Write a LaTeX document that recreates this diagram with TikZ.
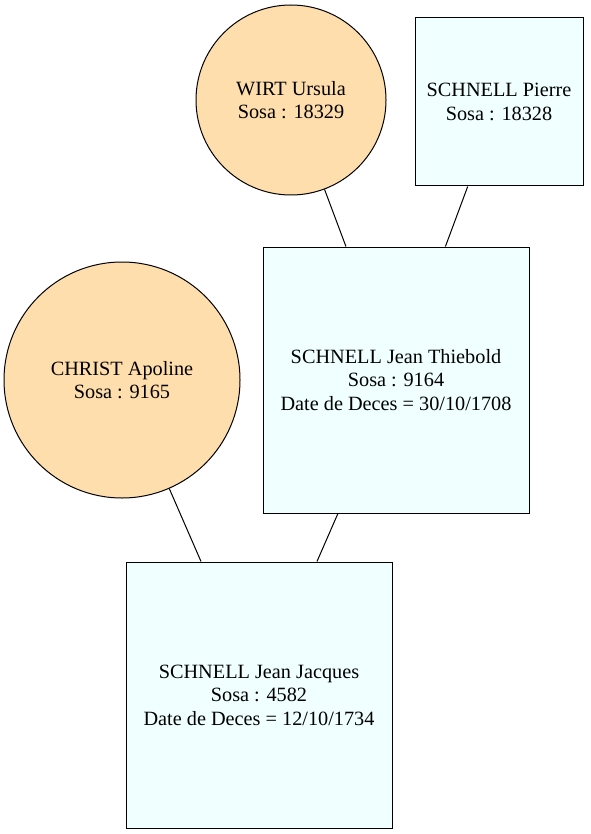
\documentclass[tikz,border=0pt]{standalone}
\usepackage{fontspec}
\setmainfont{Liberation Serif}
\usepackage{xcolor}
\definecolor{FemaleFill}{HTML}{FFDEAD}
\definecolor{MaleFill}{HTML}{F0FFFF}
\usepackage{tikz}
\usetikzlibrary{positioning}

\begin{document}
\begin{tikzpicture}[x=0.75pt,y=-0.75pt,line width=0.75pt,
    female/.style={circle, draw=black, fill=FemaleFill, align=center, inner sep=0pt},
    male/.style={rectangle, draw=black, fill=MaleFill, align=center, inner sep=0pt},
    font=\fontsize{15.2}{17.6}\selectfont]
        \useasboundingbox (0,0) rectangle (590,834);
        \node[female, minimum size=142.5pt] (wirt) at (291,100) {WIRT Ursula\\Sosa : 18329};
        \node[male, minimum size=126pt] (pierre) at (499,102) {SCHNELL Pierre\\Sosa : 18328};
        \node[male, minimum size=199.5pt] (thiebold) at (396,380)
          {SCHNELL Jean Thiebold\\Sosa : 9164\\Date de Deces = 30/10/1708};
        \node[female, minimum size=177pt] (christ) at (122,380) {CHRIST Apoline\\Sosa : 9165};
        \node[male, minimum size=199.5pt] (jacques) at (259,695)
          {SCHNELL Jean Jacques\\Sosa : 4582\\Date de Deces = 12/10/1734};
        \draw (wirt) -- (thiebold);
        \draw (pierre) -- (thiebold);
        \draw (thiebold) -- (jacques);
        \draw (christ) -- (jacques);
      \end{tikzpicture}
\end{document}
